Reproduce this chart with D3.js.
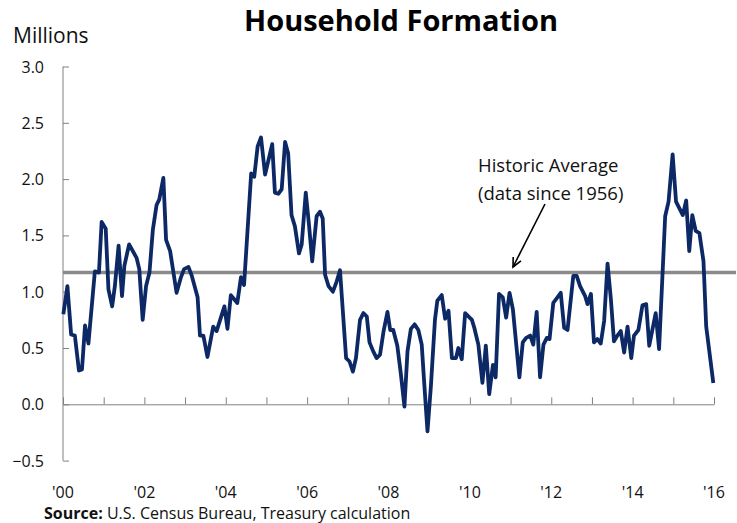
<html>
<head>
<meta charset="utf-8">
<script src="https://cdnjs.cloudflare.com/ajax/libs/d3/7.8.5/d3.min.js"></script>
<style>
    body { margin: 0; background: #fff; }
    text { font-family: "Open Sans", "Noto Sans", sans-serif; }
</style>
</head>
<body>
<svg width="737" height="523"></svg>
<script>
// months since Jan 2000
const months = [0.1, 1.3, 2.4, 3.5, 4.7, 5.6, 6.5, 7.5, 9.4, 10.6, 11.4, 12.6, 13.4, 14.5, 15.3, 16.4, 17.4, 18.1, 19.5, 21.7,
    22.5, 23.5, 24.5, 25.5, 26.5, 27.6, 28.4, 29.6, 30.4, 31.6, 33.5, 34.7, 35.7, 37.0, 38.0, 39.7, 40.4, 41.4, 42.6, 44.3,
    45.3, 47.6, 48.5, 49.5, 51.4, 52.5, 53.4, 55.5, 56.4, 57.4, 58.4, 59.6, 61.7, 62.5, 63.5, 64.5, 65.5, 66.4, 67.4, 68.4,
    69.6, 70.4, 71.6, 72.5, 73.5, 74.8, 75.8, 76.6, 77.3, 78.3, 79.6, 80.7, 81.7, 83.5, 84.5, 85.5, 86.4, 87.6, 88.6, 89.6,
    90.4, 91.5, 92.5, 93.5, 94.5, 95.7, 96.5, 97.4, 98.6, 99.6, 100.7, 101.6, 102.6, 103.7, 104.8, 105.8, 106.6, 107.5, 108.5, 109.7,
    110.4, 111.7, 112.7, 113.7, 114.7, 115.9, 116.6, 117.6, 118.6, 120.6, 121.3, 122.5, 123.7, 124.7, 125.7, 126.8, 127.6, 128.6, 129.7, 130.7,
    131.7, 132.7, 134.6, 135.6, 136.6, 137.8, 138.7, 139.7, 140.7, 141.7, 142.7, 143.5, 144.6, 145.6, 146.8, 147.8, 148.8, 150.5, 151.5, 152.5,
    154.0, 154.7, 155.7, 156.6, 157.6, 158.6, 159.6, 160.6, 161.6, 162.5, 163.5, 164.5, 165.5, 166.5, 167.6, 168.4, 169.7, 170.9, 172.0, 172.9,
    174.8, 175.8, 177.6, 178.6, 179.8, 180.8, 182.8, 183.8, 184.7, 185.6, 186.6, 187.7, 188.9, 189.7, 191.8];
// household formation, millions
const values = [0.80, 1.05, 0.62, 0.61, 0.30, 0.31, 0.70, 0.54, 1.18, 1.17, 1.62, 1.56, 1.02, 0.87, 1.05, 1.41, 0.96, 1.23, 1.42, 1.30,
    1.20, 0.75, 1.05, 1.17, 1.55, 1.77, 1.82, 2.01, 1.46, 1.36, 0.99, 1.12, 1.20, 1.22, 1.14, 0.95, 0.61, 0.61, 0.42, 0.69,
    0.65, 0.87, 0.67, 0.97, 0.90, 1.13, 1.06, 2.05, 2.02, 2.29, 2.37, 2.04, 2.31, 1.88, 1.87, 1.91, 2.33, 2.23, 1.68, 1.58,
    1.34, 1.42, 1.88, 1.61, 1.27, 1.67, 1.71, 1.65, 1.15, 1.05, 1.00, 1.09, 1.19, 0.41, 0.38, 0.29, 0.41, 0.75, 0.81, 0.78,
    0.55, 0.47, 0.41, 0.44, 0.64, 0.82, 0.66, 0.66, 0.52, 0.28, -0.02, 0.47, 0.67, 0.71, 0.66, 0.53, 0.16, -0.24, 0.16, 0.75,
    0.92, 0.97, 0.76, 0.83, 0.41, 0.41, 0.50, 0.40, 0.81, 0.75, 0.68, 0.53, 0.19, 0.52, 0.09, 0.35, 0.24, 0.98, 0.95, 0.77,
    0.99, 0.84, 0.24, 0.55, 0.59, 0.61, 0.53, 0.82, 0.24, 0.53, 0.59, 0.58, 0.90, 0.94, 0.99, 0.68, 0.66, 1.14, 1.14, 1.05,
    0.96, 0.89, 0.98, 0.55, 0.58, 0.54, 0.74, 1.25, 0.93, 0.56, 0.61, 0.65, 0.46, 0.69, 0.41, 0.61, 0.66, 0.88, 0.89, 0.52,
    0.81, 0.49, 1.67, 1.80, 2.22, 1.80, 1.68, 1.81, 1.36, 1.68, 1.54, 1.52, 1.27, 0.69, 0.19];
const historicAverage = 1.17;
const yTicks = [-0.5, 0, 0.5, 1.0, 1.5, 2.0, 2.5, 3.0];
const xLabels = ["'00", "'02", "'04", "'06", "'08", "'10", "'12", "'14", "'16"];

const data = months.map((m, i) => ({ m: m, v: values[i] }));

const svg = d3.select("svg");

const x = d3.scaleLinear().domain([0, 192]).range([63, 714]);
const y = d3.scaleLinear().domain([-0.5, 3]).range([460.6, 66.5]);

// y axis, ticks pointing inward
const yAxis = svg.append("g")
    .attr("transform", `translate(${x(0)},0)`)
    .call(d3.axisRight(y).tickValues(yTicks).tickSize(6).tickFormat(""));
yAxis.select(".domain").attr("stroke", "#808080").attr("d", `M0,${y(3)}V${y(-0.5)}`);
yAxis.selectAll(".tick line").attr("stroke", "#808080");

svg.append("g").selectAll("text")
    .data(yTicks)
    .join("text")
    .attr("x", 44)
    .attr("y", d => y(d) + 6)
    .attr("text-anchor", "end")
    .attr("font-size", 16)
    .attr("fill", "#111")
    .text(d => d3.format(".1f")(d));

// x axis sits on zero line, ticks pointing up
const xAxis = svg.append("g")
    .attr("transform", `translate(0,${y(0)})`)
    .call(d3.axisTop(x).tickValues(d3.range(0, 193, 12)).tickSize(7).tickSizeOuter(0).tickFormat(""));
xAxis.select(".domain").attr("stroke", "#808080");
xAxis.selectAll(".tick line").attr("stroke", "#808080");

svg.append("g").selectAll("text")
    .data(xLabels)
    .join("text")
    .attr("x", (d, i) => x(i * 24))
    .attr("y", 498)
    .attr("text-anchor", "middle")
    .attr("font-size", 16)
    .attr("fill", "#111")
    .text(d => d);

// historic average
svg.append("line")
    .attr("x1", x(0))
    .attr("x2", 736)
    .attr("y1", y(historicAverage))
    .attr("y2", y(historicAverage))
    .attr("stroke", "#8a8a8a")
    .attr("stroke-width", 3.5);

// series
svg.append("path")
    .datum(data)
    .attr("fill", "none")
    .attr("stroke", "#0c2966")
    .attr("stroke-width", 3.8)
    .attr("stroke-linejoin", "round")
    .attr("d", d3.line().x(d => x(d.m)).y(d => y(d.v)));

// annotation
svg.append("text").attr("x", 478).attr("y", 172).attr("font-size", 18.5).attr("fill", "#111").text("Historic Average");
svg.append("text").attr("x", 478).attr("y", 200).attr("font-size", 18.5).attr("fill", "#111").text("(data since 1956)");

const ax1 = 545, ay1 = 204, ax2 = 513, ay2 = 267;
svg.append("line")
    .attr("x1", ax1).attr("y1", ay1).attr("x2", ax2).attr("y2", ay2)
    .attr("stroke", "#000").attr("stroke-width", 1.6);
const ang = Math.atan2(ay2 - ay1, ax2 - ax1);
const head = 10;
svg.append("path")
    .attr("d", `M${ax2 - head * Math.cos(ang - 0.45)},${ay2 - head * Math.sin(ang - 0.45)}L${ax2},${ay2}L${ax2 - head * Math.cos(ang + 0.45)},${ay2 - head * Math.sin(ang + 0.45)}`)
    .attr("fill", "none").attr("stroke", "#000").attr("stroke-width", 1.6);

// titles
svg.append("text")
    .attr("x", 401).attr("y", 31)
    .attr("text-anchor", "middle")
    .attr("font-size", 29)
    .attr("font-weight", "bold")
    .attr("fill", "#000")
    .text("Household Formation");

svg.append("text")
    .attr("x", 13).attr("y", 43)
    .attr("font-size", 21)
    .attr("fill", "#111")
    .text("Millions");

const src = svg.append("text")
    .attr("x", 44).attr("y", 519)
    .attr("font-size", 16)
    .attr("fill", "#111");
src.append("tspan").attr("font-weight", "bold").text("Source:");
src.append("tspan").text(" U.S. Census Bureau, Treasury calculation");
</script>
</body>
</html>
